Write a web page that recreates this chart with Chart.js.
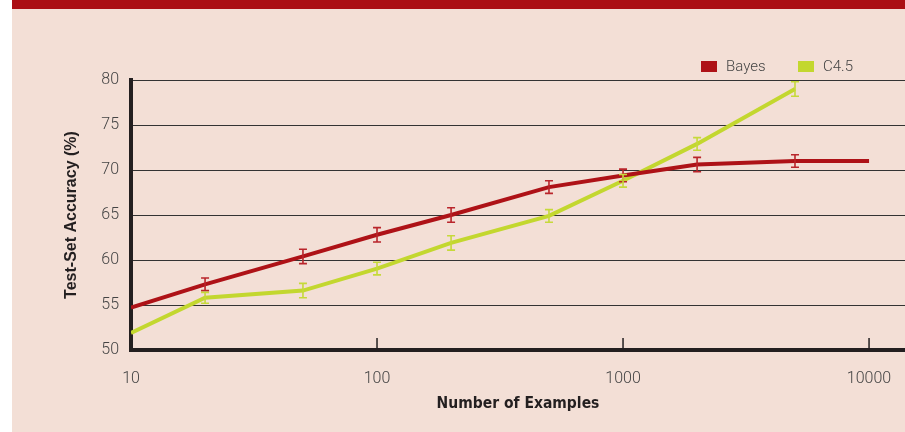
<!DOCTYPE html>
<html>
<head>
<script src="https://cdn.jsdelivr.net/npm/chart.js"></script>
<style>
    body {
        margin: 0;
        background: #ffffff;
    }
    .panel {
        position: absolute;
        left: 12px;
        top: 0;
        width: 893px;
        height: 423px;
        background: #f3dfd6;
        border-top: 9px solid #ab0f14;
    }
    #chart {
        position: absolute;
        left: 0;
        top: 0;
    }
    .legend {
        position: absolute;
        top: 48px;
        font-family: Roboto, sans-serif;
        font-weight: 300;
        font-size: 15px;
        color: #444;
        line-height: 18px;
    }
    .legend span.box {
        display: inline-block;
        width: 16px;
        height: 11px;
        vertical-align: -1px;
        margin-right: 9px;
    }
</style>
</head>
<body>
<div class="panel">
    <canvas id="chart" width="893" height="423"></canvas>
    <div class="legend" style="left:689px"><span class="box" style="background:#ae1217"></span>Bayes</div>
    <div class="legend" style="left:786px"><span class="box" style="background:#c3d72f"></span>C4.5</div>
</div>

<script>
// number of training examples
const examples = [10, 20, 50, 100, 200, 500, 1000, 2000, 5000, 10000];

// test-set accuracy (%) and error bar half-widths
const bayesAcc = [54.7, 57.3, 60.4, 62.8, 65.0, 68.1, 69.4, 70.6, 71.0, 71.0];
const bayesErr = [null, 0.7, 0.8, 0.8, 0.8, 0.7, 0.7, 0.8, 0.7, null];
const c45Acc = [51.9, 55.8, 56.6, 59.05, 61.9, 64.9, 68.8, 72.9, 79.0, null];
const c45Err = [null, 0.6, 0.8, 0.7, 0.8, 0.7, 0.7, 0.7, 0.8, null];

const xTicks = [10, 100, 1000, 10000];
const yMin = 50, yMax = 80, yStep = 5;

const toPoints = (vals) => examples.map((x, i) => ({ x: x, y: vals[i] })).filter(p => p.y !== null);

// error bars + inward x tick marks
const extras = {
    id: 'extras',
    afterDatasetsDraw(chart) {
        const ctx = chart.ctx;
        const xs = chart.scales.x, ys = chart.scales.y;
        const sets = [
            { acc: bayesAcc, err: bayesErr, color: '#b9252b' },
            { acc: c45Acc, err: c45Err, color: '#c6d93a' }
        ];
        ctx.save();
        ctx.lineWidth = 1.6;
        sets.forEach(s => {
            ctx.strokeStyle = s.color;
            examples.forEach((x, i) => {
                if (s.err[i] == null || s.acc[i] == null) return;
                const px = xs.getPixelForValue(x);
                const top = ys.getPixelForValue(s.acc[i] + s.err[i]);
                const bot = ys.getPixelForValue(s.acc[i] - s.err[i]);
                ctx.beginPath();
                ctx.moveTo(px, top); ctx.lineTo(px, bot);
                ctx.moveTo(px - 4, top); ctx.lineTo(px + 4, top);
                ctx.moveTo(px - 4, bot); ctx.lineTo(px + 4, bot);
                ctx.stroke();
            });
        });
        ctx.strokeStyle = '#231f20';
        ctx.lineWidth = 1.5;
        xTicks.slice(1).forEach(v => {
            const px = xs.getPixelForValue(v);
            ctx.beginPath();
            ctx.moveTo(px, chart.chartArea.bottom);
            ctx.lineTo(px, chart.chartArea.bottom - 12);
            ctx.stroke();
        });
        ctx.restore();
    }
};

new Chart(document.getElementById('chart'), {
    type: 'line',
    data: {
        datasets: [
            {
                label: 'Bayes',
                data: toPoints(bayesAcc),
                borderColor: '#ae1217',
                borderWidth: 4,
                pointRadius: 0,
                tension: 0
            },
            {
                label: 'C4.5',
                data: toPoints(c45Acc),
                borderColor: '#c3d72f',
                borderWidth: 4,
                pointRadius: 0,
                tension: 0
            }
        ]
    },
    options: {
        responsive: false,
        animation: false,
        layout: { padding: { top: 71, right: 0, left: 0, bottom: 0 } },
        plugins: {
            legend: { display: false },
            tooltip: { enabled: false }
        },
        scales: {
            x: {
                type: 'logarithmic',
                min: 10,
                max: 14000,
                afterBuildTicks: (s) => { s.ticks = xTicks.map(v => ({ value: v })); },
                afterFit: (s) => { s.height = 82; s.paddingLeft = 0; s.paddingRight = 0; },
                grid: { drawOnChartArea: false, drawTicks: false },
                border: { display: true, color: '#231f20', width: 4 },
                ticks: {
                    padding: 19,
                    maxRotation: 0,
                    autoSkip: false,
                    color: '#444',
                    font: { family: 'Roboto', weight: '300', size: 16 },
                    callback: (v) => String(v)
                },
                title: {
                    display: true,
                    text: 'Number of Examples',
                    color: '#231f20',
                    padding: { top: 0, bottom: 19 },
                    font: { family: "'DejaVu Sans Condensed', 'Liberation Sans Narrow', sans-serif", weight: 'bold', size: 15.5 }
                }
            },
            y: {
                min: yMin,
                max: yMax,
                afterFit: (s) => { s.width = 119; },
                grid: { color: '#333', lineWidth: 1, drawTicks: false },
                border: { display: true, color: '#231f20', width: 4 },
                ticks: {
                    stepSize: yStep,
                    padding: 12,
                    color: '#444',
                    font: { family: 'Roboto', weight: '300', size: 16 }
                },
                title: {
                    display: true,
                    text: 'Test-Set Accuracy (%)',
                    color: '#231f20',
                    padding: { top: 50, bottom: 0 },
                    font: { family: "'Liberation Sans', Arial, sans-serif", weight: 'bold', size: 16 }
                }
            }
        }
    },
    plugins: [extras]
});
</script>
</body>
</html>
